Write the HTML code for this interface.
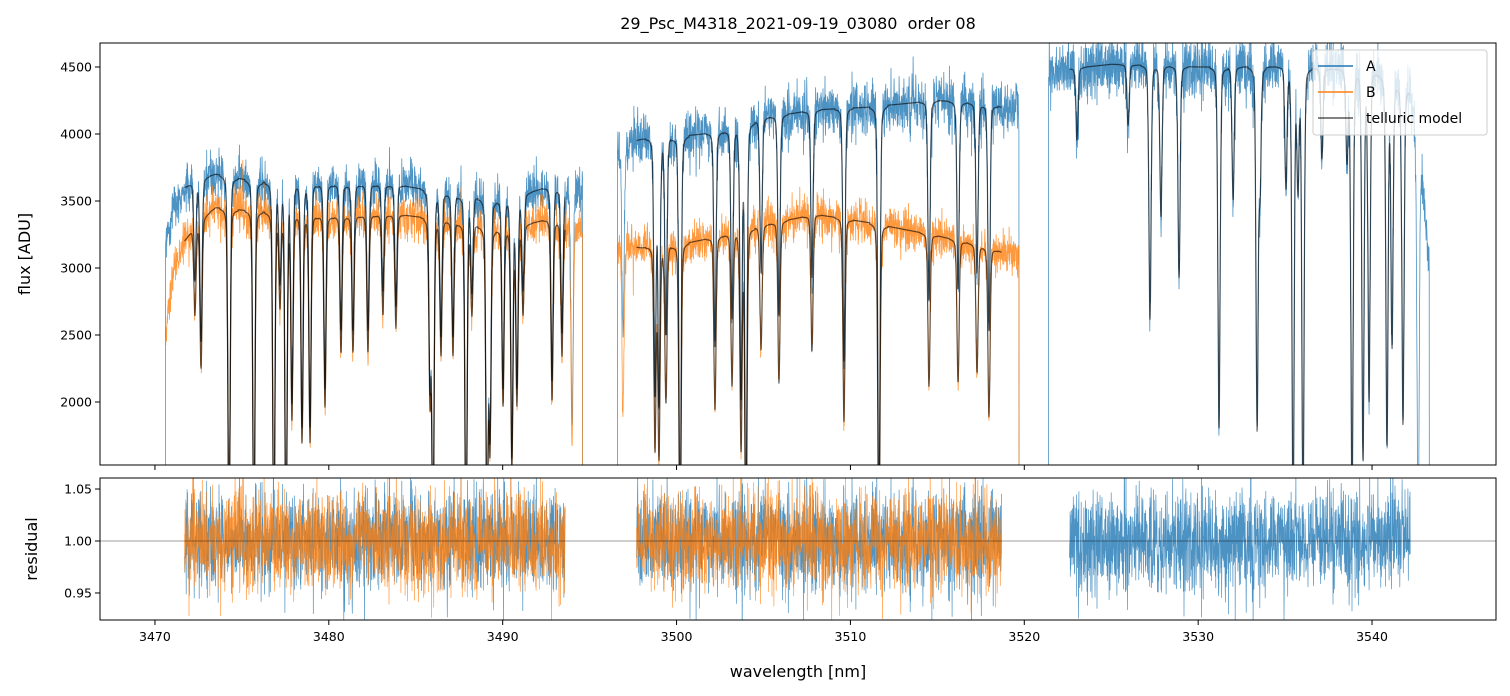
<!DOCTYPE html>
<html><head><meta charset="utf-8">
<style>
body{margin:0;background:#fff;}
svg{display:block;font-family:"DejaVu Sans","Liberation Sans",sans-serif;}
</style></head>
<body>
<svg id="fig" width="1510" height="696" viewBox="0 0 1510 696" xmlns="http://www.w3.org/2000/svg">
<defs>
<clipPath id="clipTop"><rect x="100" y="43" width="1396" height="422"/></clipPath>
<clipPath id="clipBot"><rect x="100" y="478" width="1396" height="142"/></clipPath>
</defs>
<text x="798" y="29" font-size="16" text-anchor="middle" xml:space="preserve">29_Psc_M4318_2021-09-19_03080&#160; order 08</text>
<g id="topData" clip-path="url(#clipTop)"></g>
<g id="botData" clip-path="url(#clipBot)"></g>
<rect x="100" y="43" width="1396" height="422" fill="none" stroke="#000" stroke-width="1"/>
<rect x="100" y="478" width="1396" height="142" fill="none" stroke="#000" stroke-width="1"/>
<g id="axes"></g>
<text transform="translate(30,254) rotate(-90)" font-size="16" text-anchor="middle">flux [ADU]</text>
<text transform="translate(37,549) rotate(-90)" font-size="16" text-anchor="middle">residual</text>
<text x="798" y="677" font-size="16" text-anchor="middle">wavelength [nm]</text>
<g>
<rect x="1313" y="50" width="174" height="85" rx="3" fill="#fff" fill-opacity="0.8" stroke="#ccc"/>
<line x1="1318" y1="66" x2="1353" y2="66" stroke="#1f77b4" stroke-width="1.5"/>
<text x="1366" y="71" font-size="14">A</text>
<line x1="1318" y1="92" x2="1353" y2="92" stroke="#ff7f0e" stroke-width="1.5"/>
<text x="1366" y="97" font-size="14">B</text>
<line x1="1318" y1="118" x2="1353" y2="118" stroke="#000" stroke-opacity="0.65" stroke-width="1.5"/>
<text x="1366" y="123" font-size="14">telluric model</text>
</g>
</svg>
<script>
// axis domains
const xDomain = [3466.84, 3547.13];
const yTopDomain = [1530, 4679];
const yBotDomain = [0.924, 1.0606];
const xTicks = [3470, 3480, 3490, 3500, 3510, 3520, 3530, 3540];
const yTopTicks = [2000, 2500, 3000, 3500, 4000, 4500];
const yBotTicks = [0.95, 1.00, 1.05];
const yBotTickLabels = ["0.95", "1.00", "1.05"];

// segments: data range, model range
const dataRanges = [[3470.6, 3494.6], [3496.6, 3519.7], [3521.4, 3543.3]];
const modelRanges = [[3471.7, 3493.6], [3497.7, 3518.7], [3522.6, 3542.2]];
// continuum knots per segment
const knotWl1 = [3470.6, 3471.0, 3471.7, 3472.5, 3473.5, 3476, 3480, 3484, 3487, 3490, 3492.5, 3494.6];
const knotA1  = [3150, 3400, 3600, 3660, 3700, 3640, 3620, 3620, 3550, 3500, 3600, 3580];
const knotB1  = [2500, 2950, 3200, 3350, 3450, 3420, 3380, 3400, 3350, 3280, 3360, 3320];
const knotWl2 = [3496.6, 3498, 3500, 3503, 3505, 3508, 3511, 3515, 3518, 3519.7];
const knotA2  = [3920, 3960, 3980, 4020, 4120, 4180, 4200, 4250, 4220, 4170];
const knotB2  = [3170, 3150, 3170, 3250, 3320, 3400, 3340, 3240, 3150, 3070];
const knotWl3 = [3521.4, 3525, 3530, 3535, 3540, 3542.2, 3542.8, 3543.3];
const knotA3  = [4470, 4520, 4500, 4500, 4470, 4320, 3800, 3000];
// telluric lines: centre wavelength and fractional depth
const lineWl = [3472.30,3472.65,3474.26,3475.69,3476.84,3477.19,3477.54,3477.88,3478.46,3478.92,3479.78,3480.70,3481.39,3482.25,3483.11,3483.86,3485.82,3485.99,3486.45,3487.14,3487.89,3488.23,3489.10,3489.27,3490.02,3490.53,3490.82,3491.17,3492.84,3493.41,3493.99,
 3496.92,3498.76,3498.99,3499.39,3500.20,3502.21,3503.19,3503.71,3503.99,3504.86,3505.89,3507.79,3509.63,3511.64,3514.52,3516.19,3517.28,3517.97,
 3523.03,3525.97,3527.23,3527.86,3528.90,3531.20,3532.01,3533.39,3533.56,3535.05,3535.46,3535.74,3536.03,3537.12,3538.56,3538.85,3539.48,3539.83,3540.86,3541.15,3541.78,3542.65];
const lineDepth = [0.2,0.33,0.75,0.75,0.75,0.2,0.75,0.45,0.5,0.5,0.42,0.3,0.3,0.3,0.22,0.25,0.4,0.75,0.3,0.3,0.75,0.2,0.75,0.5,0.4,0.55,0.4,0.2,0.4,0.3,0.5,
 0.38,0.48,0.5,0.37,0.75,0.4,0.35,0.5,0.75,0.28,0.36,0.3,0.45,0.75,0.35,0.33,0.3,0.4,
 0.12,0.1,0.42,0.25,0.35,0.6,0.22,0.6,0.2,0.2,0.75,0.2,0.75,0.15,0.15,0.75,0.65,0.55,0.62,0.45,0.58,0.75];

const X0=100,X1=1496,YT0=43,YT1=465,YB0=478,YB1=620;
function sx(w){return X0+(w-xDomain[0])/(xDomain[1]-xDomain[0])*(X1-X0);}
function syT(v){return YT1-(v-yTopDomain[0])/(yTopDomain[1]-yTopDomain[0])*(YT1-YT0);}
function syB(v){return YB1-(v-yBotDomain[0])/(yBotDomain[1]-yBotDomain[0])*(YB1-YB0);}
function interp(xs,ys,x){if(x<=xs[0])return ys[0];for(let i=1;i<xs.length;i++){if(x<=xs[i]){const t=(x-xs[i-1])/(xs[i]-xs[i-1]);return ys[i-1]+t*(ys[i]-ys[i-1]);}}return ys[ys.length-1];}
function trans(w){let t=1;for(let i=0;i<lineWl.length;i++){const d=(w-lineWl[i])/0.065;if(Math.abs(d)<8){const p=Math.exp(-d*d/2)*0.75+0.25/(1+d*d);t*=1-lineDepth[i]*p;}}return t;}
// seeded texture noise
let seed=12345;function rnd(){seed|=0;seed=seed+0x6D2B79F5|0;let t=Math.imul(seed^seed>>>15,1|seed);t=t+Math.imul(t^t>>>7,61|t)^t;return((t^t>>>14)>>>0)/4294967296;}
function gauss(){let u=rnd()||1e-9,v=rnd();return Math.sqrt(-2*Math.log(u))*Math.cos(2*Math.PI*v);}

const NS="http://www.w3.org/2000/svg";
const topG=document.getElementById('topData'),botG=document.getElementById('botData'),axG=document.getElementById('axes');
function addPath(g,d,color,op,w,name){const p=document.createElementNS(NS,'path');p.setAttribute('d',d);p.setAttribute('fill','none');p.setAttribute('stroke',color);p.setAttribute('stroke-opacity',op);p.setAttribute('stroke-width',w);p.setAttribute('stroke-linejoin','round');


g.appendChild(p);}

const segKnots=[[knotWl1,knotA1,knotB1],[knotWl2,knotA2,knotB2],[knotWl3,knotA3,null]];
const step=0.012;
let dA='',dB='',mA='',mB='',rA='',rB='';
for(let s=0;s<3;s++){
 const [kw,ka,kb]=segKnots[s];const [d0,d1]=dataRanges[s];const [m0,m1]=modelRanges[s];
 let firstM=true;
 dA+=`M${sx(d0).toFixed(1)},${syT(0).toFixed(1)}`;
 if(kb)dB+=`M${sx(d0).toFixed(1)},${syT(0).toFixed(1)}`;
 let rAf=true,rBf=true;
 for(let w=d0;w<=d1;w+=step){
  const t=trans(w);const inM=w>=m0&&w<=m1;
  const nA=gauss()*0.024+(rnd()<0.01?gauss()*0.05:0);
  const ca=interp(kw,ka,w);
  const x=sx(w).toFixed(1);
  dA+=`L${x},${syT(ca*t*(1+nA)).toFixed(1)}`;
  if(inM){mA+=(firstM?'M':'L')+x+','+syT(ca*t).toFixed(1);rA+=(rAf?'M':'L')+x+','+syB(1+nA).toFixed(1);rAf=false;}
  if(kb){const nB=gauss()*0.024+(rnd()<0.01?gauss()*0.05:0);const cb=interp(kw,kb,w);
   dB+=`L${x},${syT(cb*t*(1+nB)).toFixed(1)}`;
   if(inM){mB+=(firstM?'M':'L')+x+','+syT(cb*t).toFixed(1);rB+=(rBf?'M':'L')+x+','+syB(1+nB).toFixed(1);rBf=false;}}
  if(inM)firstM=false;
 }
 dA+=`L${sx(d1).toFixed(1)},${syT(0).toFixed(1)}`;
 if(kb)dB+=`L${sx(d1).toFixed(1)},${syT(0).toFixed(1)}`;
}
addPath(topG,dA,'#1f77b4',0.8,0.8,'series-a-flux');
addPath(topG,dB,'#ff7f0e',0.8,0.8,'series-b-flux');
addPath(topG,mA,'#000',0.6,1.2,'telluric-model-a');
addPath(topG,mB,'#000',0.6,1.2,'telluric-model-b');
addPath(botG,rA,'#1f77b4',0.8,0.7,'residual-a');
addPath(botG,rB,'#ff7f0e',0.8,0.7,'residual-b');
const ref=document.createElementNS(NS,'line');ref.setAttribute('x1',X0);ref.setAttribute('x2',X1);ref.setAttribute('y1',syB(1));ref.setAttribute('y2',syB(1));ref.setAttribute('stroke','#000');ref.setAttribute('stroke-opacity','0.5');ref.setAttribute('stroke-width','0.8');


botG.appendChild(ref);

function line(x1,y1,x2,y2,name){const l=document.createElementNS(NS,'line');l.setAttribute('x1',x1);l.setAttribute('y1',y1);l.setAttribute('x2',x2);l.setAttribute('y2',y2);l.setAttribute('stroke','#000');l.setAttribute('stroke-width','1');


axG.appendChild(l);}
function text(x,y,s,anchor,name){const t=document.createElementNS(NS,'text');t.setAttribute('x',x);t.setAttribute('y',y);t.setAttribute('font-size','12.5');t.setAttribute('text-anchor',anchor);t.textContent=s;


axG.appendChild(t);}
xTicks.forEach(v=>{const x=sx(v);line(x,YT1,x,YT1+5,'x-tick-top');line(x,YB1,x,YB1+5,'x-tick');text(x,YB1+21,String(v),'middle','x-tick-label');});
yTopTicks.forEach(v=>{const y=syT(v);line(X0-5,y,X0,y,'y-tick-flux');text(X0-8,y+4.5,String(v),'end','y-tick-label-flux');});
yBotTicks.forEach((v,i)=>{const y=syB(v);line(X0-5,y,X0,y,'y-tick-residual');text(X0-8,y+4.5,yBotTickLabels[i],'end','y-tick-label-residual');});
</script>
</body></html>
